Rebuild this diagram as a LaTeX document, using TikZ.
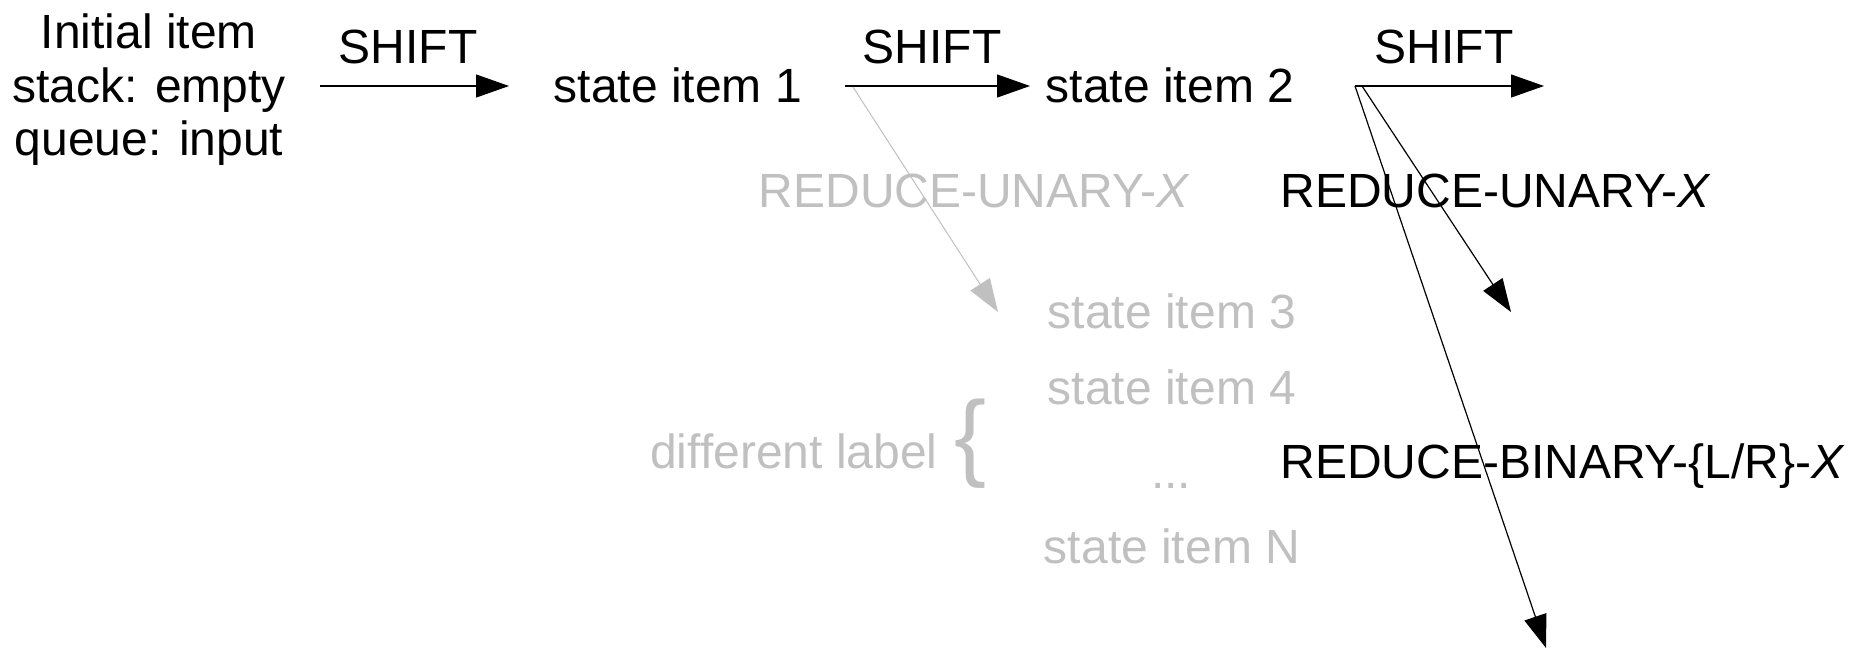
\documentclass[tikz,border=0pt]{standalone}
\usepackage{fontspec}
\setmainfont{Liberation Sans}
\usetikzlibrary{arrows.meta}
\definecolor{lightg}{RGB}{192,192,192}
\begin{document}
\begin{tikzpicture}[x=0.5pt,y=-0.5pt,
  txt/.style={inner sep=0pt, font=\fontsize{24}{26.75}\selectfont, anchor=base},
  faded/.style={text=lightg},
  conn/.style={line width=0.6pt, -{Triangle[length=16.5pt,width=11.5pt]}},
  fadedconn/.style={line width=0.5pt, draw=lightg, -{Triangle[length=16.5pt,width=11.5pt]}},
]
\useasboundingbox (0,0) rectangle (1863,649);

% nodes
\node[txt, anchor=center, align=center] (init) at (149,90) {Initial item\\stack: empty\\queue: input};
\node[txt] (sh1) at (408,63) {SHIFT};
\node[txt] (s1) at (678,102) {state item 1};
\node[txt] (sh2) at (932,63) {SHIFT};
\node[txt] (s2) at (1170,102) {state item 2};
\node[txt] (sh3) at (1444,63) {SHIFT};
\node[txt, faded, anchor=base east] (ru1) at (1190,207) {REDUCE-UNARY-\textit{X}};
\node[txt, anchor=base west] (ru2) at (1280,207) {REDUCE-UNARY-\textit{X}};
\node[txt, faded] (s3) at (1172,328) {state item 3};
\node[txt, faded] (s4) at (1172,404) {state item 4};
\node[txt, faded] (dots) at (1171,488) {...};
\node[txt, faded] (sN) at (1172,563) {state item N};
\node[txt, faded, anchor=base east] (dl) at (938,468) {different label};
\node[faded, inner sep=0pt, font=\fontsize{48}{50}\selectfont] (brace) at (971,444) {\{};
\node[txt, anchor=base west] (rb) at (1280,478) {REDUCE-BINARY-\{L/R\}-\textit{X}};

% connector end points
\coordinate (a1s) at (320,86);  \coordinate (a1e) at (509,86);
\coordinate (a2s) at (845,86);  \coordinate (a2e) at (1030,86);
\coordinate (a3s) at (1355,86); \coordinate (a3e) at (1544,86);
\coordinate (b1s) at (1362,86); \coordinate (b1e) at (1511,312);
\coordinate (b2e) at (1546,648);
\coordinate (g1s) at (853,87);  \coordinate (g1e) at (998,312);

\draw[conn] (a1s) -- (a1e);
\draw[conn] (a2s) -- (a2e);
\draw[conn] (a3s) -- (a3e);
\draw[conn] (b1s) -- (b1e);
\draw[conn] (a3s) -- (b2e);
\draw[fadedconn] (g1s) -- (g1e);
\end{tikzpicture}
\end{document}
